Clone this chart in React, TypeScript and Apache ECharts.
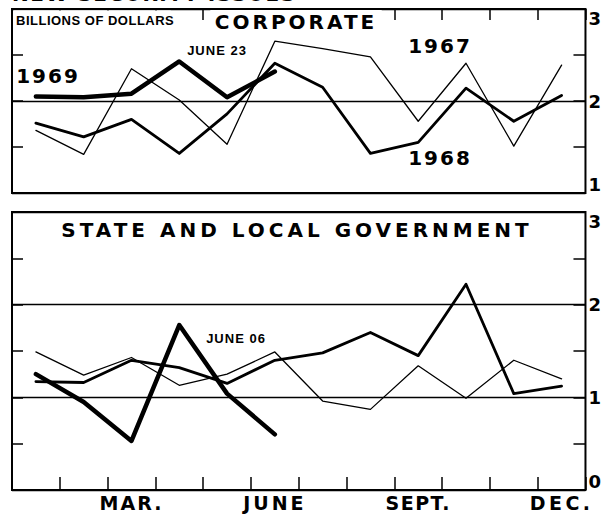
import React, { useEffect, useRef } from 'react';
import * as echarts from 'echarts';

// ---- data ----
const months = ['JAN.', 'FEB.', 'MAR.', 'APR.', 'MAY', 'JUNE', 'JULY', 'AUG.', 'SEPT.', 'OCT.', 'NOV.', 'DEC.'];
const shownMonths = ['MAR.', 'JUNE', 'SEPT.', 'DEC.'];

const corp1967 = [1.68, 1.42, 2.35, 2.01, 1.53, 2.65, 2.57, 2.48, 1.78, 2.41, 1.51, 2.39];
const corp1968 = [1.76, 1.61, 1.80, 1.43, 1.86, 2.41, 2.15, 1.43, 1.55, 2.14, 1.78, 2.06];
const corp1969 = [2.05, 2.04, 2.08, 2.43, 2.04, 2.32];

const slg1967 = [1.49, 1.24, 1.43, 1.13, 1.25, 1.49, 0.96, 0.87, 1.34, 0.99, 1.40, 1.20];
const slg1968 = [1.17, 1.16, 1.40, 1.32, 1.15, 1.40, 1.48, 1.70, 1.45, 2.22, 1.04, 1.12];
const slg1969 = [1.25, 0.95, 0.53, 1.78, 1.04, 0.60];

const corpRange = [1, 3];
const slgRange = [0, 3];

const BOLD = 'DejaVu Sans';
const SMALL = 'Liberation Sans';

const letterSpacing: Record<string, string> = {
  'NEW SECURITY ISSUES': '1.5px',
  'CORPORATE': '3px',
  'STATE AND LOCAL GOVERNMENT': '4px',
  '1969': '2px',
  '1968': '2px',
  '1967': '2px',
  'MAR.': '2px',
  'JUNE': '3px',
  'SEPT.': '1.5px',
  'DEC.': '3.5px',
  'JUNE 23': '1px',
  'JUNE 06': '1px',
  'BILLIONS OF DOLLARS': '0.5px',
};

function panelAxes(gridIndex: number, range: number[], topTicks: boolean) {
  const [min, max] = range;
  const xAxis: any = {
    gridIndex,
    type: 'category',
    data: months,
    boundaryGap: true,
    position: topTicks ? 'top' : 'bottom',
    axisLine: { show: false },
    axisTick: { show: true, inside: true, interval: 0, length: topTicks ? 11 : 13, lineStyle: { color: '#000', width: 1.5 } },
    axisLabel: topTicks
      ? { show: false }
      : {
          show: true,
          interval: (_i: number, v: string) => shownMonths.includes(v),
          color: '#000',
          fontFamily: BOLD,
          fontWeight: 'bold',
          fontSize: 19,
          margin: 3,
        },
    splitLine: { show: false },
  };
  const tickStyle = { color: '#000', width: 1.5 };
  const yAxes: any[] = [
    {
      gridIndex,
      type: 'value',
      position: 'right',
      min,
      max,
      interval: 0.5,
      axisLine: { show: false },
      axisTick: { show: true, inside: true, length: 12, lineStyle: tickStyle },
      axisLabel: {
        show: true,
        formatter: (v: number) => (Number.isInteger(v) ? String(v) : ''),
        color: '#000',
        fontFamily: BOLD,
        fontWeight: 'bold',
        fontSize: 18,
        margin: 3,
        verticalAlignMinLabel: 'bottom',
        verticalAlignMaxLabel: 'top',
      },
      splitLine: { show: false },
    },
    {
      gridIndex,
      type: 'value',
      position: 'left',
      min,
      max,
      interval: 0.5,
      axisLine: { show: false },
      axisTick: { show: true, inside: true, length: 11, lineStyle: tickStyle },
      axisLabel: { show: false },
      splitLine: { show: false },
    },
    {
      gridIndex,
      type: 'value',
      position: 'left',
      min,
      max,
      interval: 1,
      axisLine: { show: false },
      axisTick: { show: false },
      axisLabel: { show: false },
      splitLine: { show: true, lineStyle: { color: '#000', width: 1.4 } },
    },
  ];
  return { xAxis, yAxes };
}

function lineSeries(name: string, data: number[], xi: number, yi: number, width: number, z: number) {
  return {
    name,
    type: 'line',
    xAxisIndex: xi,
    yAxisIndex: yi,
    data,
    symbol: 'none',
    z,
    lineStyle: { color: '#000', width, cap: 'round', join: 'round' },
  };
}

function txt(text: string, x: number, y: number, size: number, family: string, extra: any = {}) {
  return {
    type: 'text',
    x,
    y,
    z: 100,
    style: {
      text,
      fill: '#000',
      font: `bold ${size}px "${family}"`,
      align: 'center',
      verticalAlign: 'middle',
      ...extra,
    },
  };
}

export default function App() {
  const ref = useRef<HTMLDivElement>(null);
  useEffect(() => {
    if (!ref.current) return;
    const chart = echarts.init(ref.current, null, { renderer: 'svg' });
    const top = panelAxes(0, corpRange, true);
    const bot = panelAxes(1, slgRange, false);
    const gridStyle = { show: true, borderColor: '#000', borderWidth: 2, backgroundColor: 'transparent' };
    chart.setOption({
      animation: false,
      backgroundColor: '#fff',
      grid: [
        { left: 12, right: 18, top: 9, height: 184, ...gridStyle },
        { left: 12, right: 18, top: 212, height: 278, ...gridStyle },
      ],
      xAxis: [top.xAxis, bot.xAxis],
      yAxis: [...top.yAxes, ...bot.yAxes],
      series: [
        lineSeries('Corporate 1967', corp1967, 0, 0, 1.3, 3),
        lineSeries('Corporate 1968', corp1968, 0, 0, 2.8, 4),
        lineSeries('Corporate 1969', corp1969, 0, 0, 4.5, 5),
        lineSeries('State and local 1967', slg1967, 1, 3, 1.3, 3),
        lineSeries('State and local 1968', slg1968, 1, 3, 2.8, 4),
        lineSeries('State and local 1969', slg1969, 1, 3, 4.5, 5),
      ],
      graphic: [
        txt('NEW SECURITY ISSUES', 12, -6.5, 20, BOLD, { align: 'left' }),
        txt('BILLIONS OF DOLLARS', 14, 20, 13, SMALL, { align: 'left', backgroundColor: '#fff', padding: [3, 6, 3, 2] }),
        txt('CORPORATE', 296, 22, 20, BOLD, { backgroundColor: '#fff', padding: [2, 18, 2, 18] }),
        txt('JUNE 23', 217, 50, 13, SMALL),
        txt('1969', 48, 76, 20, BOLD),
        txt('1967', 440, 46, 20, BOLD),
        txt('1968', 440, 158, 20, BOLD),
        txt('STATE AND LOCAL GOVERNMENT', 297, 230, 20, BOLD),
        txt('JUNE 06', 236, 338, 13, SMALL),
      ],
    });
    const applySpacing = () => {
      const el = ref.current;
      if (!el) return;
      el.querySelectorAll('text').forEach((t) => {
        const s = letterSpacing[(t.textContent || '').trim()];
        if (s) t.setAttribute('letter-spacing', s);
      });
    };
    applySpacing();
    chart.on('finished', applySpacing);
    return () => {
      chart.dispose();
    };
  }, []);
  return <div ref={ref} style={{ position: 'absolute', left: 0, top: 0, width: 604, height: 516 }} />;
}
